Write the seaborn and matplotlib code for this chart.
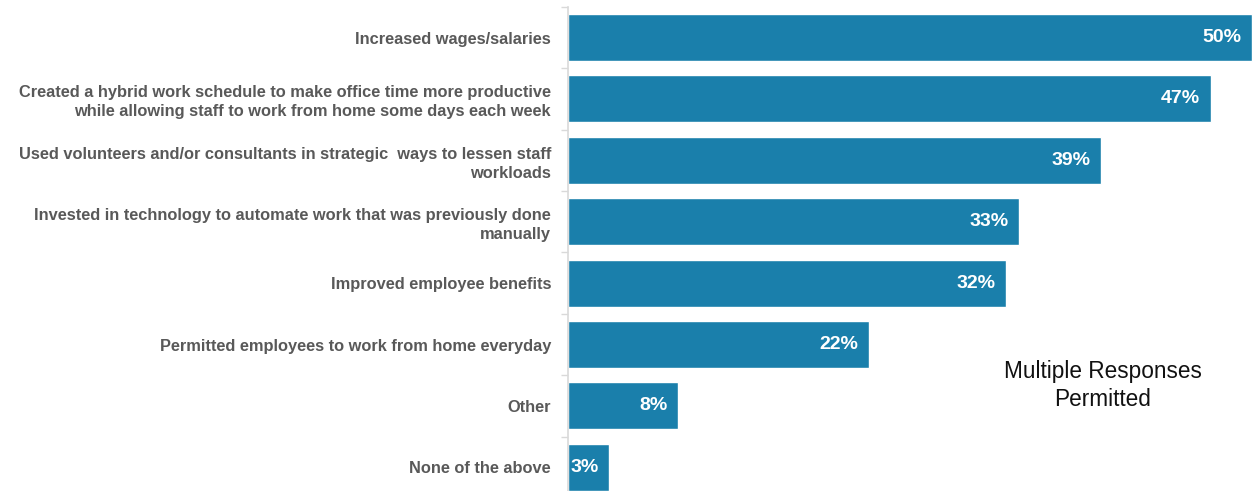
import matplotlib
matplotlib.use("Agg")
import matplotlib.pyplot as plt
import seaborn as sns
import pandas as pd

categories = [
    "Increased wages/salaries",
    "Created a hybrid work schedule to make office time more productive\nwhile allowing staff to work from home some days each week",
    "Used volunteers and/or consultants in strategic  ways to lessen staff\nworkloads",
    "Invested in technology to automate work that was previously done\nmanually",
    "Improved employee benefits",
    "Permitted employees to work from home everyday",
    "Other",
    "None of the above",
]
values = [50, 47, 39, 33, 32, 22, 8, 3]
value_labels = ["50%", "47%", "39%", "33%", "32%", "22%", "8%", "3%"]
note = "Multiple Responses\nPermitted"

sns.set_theme(style="white")
plt.rcParams["font.family"] = ["Liberation Sans", "DejaVu Sans"]

df = pd.DataFrame({"category": categories, "value": values})

fig = plt.figure(figsize=(12.53, 4.91), dpi=100)
ax = fig.add_axes([0.4537, -0.0143, 1 - 0.4537, 1.0003])

sns.barplot(data=df, x="value", y="category", orient="h", color="#1a7fab",
            saturation=1, width=0.765, ax=ax)

ax.set_xlim(0, 50.1)
ax.set_ylim(len(categories) - 0.5, -0.5)
ax.set_xlabel("")
ax.set_ylabel("")
ax.set_xticks([])

for s in ["top", "right", "bottom"]:
    ax.spines[s].set_visible(False)
ax.spines["left"].set_color("#d9d9d9")
ax.spines["left"].set_linewidth(1.2)

# category labels on major ticks, short separators on minor ticks
ax.set_yticks(range(len(categories)))
ax.set_yticklabels(categories, fontweight="bold", color="#595959",
                   fontsize=11.8, linespacing=1.32)
ax.tick_params(axis="y", which="major", length=0, pad=12.5)
ax.set_yticks([i - 0.5 for i in range(len(categories) + 1)], minor=True)
ax.tick_params(axis="y", which="minor", length=5, width=1, color="#d9d9d9", left=True)

for bar, lab in zip(ax.patches, value_labels):
    end = bar.get_x() + bar.get_width()
    cy = bar.get_y() + bar.get_height() / 2
    ax.annotate(lab, xy=(end, cy), xytext=(-7.5, 0), textcoords="offset points",
                ha="right", va="center", color="white", fontweight="bold",
                fontsize=14)

fig.text(0.8803, 0.215, note, ha="center", va="center", fontsize=16.3,
         color="#111111", linespacing=1.25)

fig.savefig("out.png", dpi=100)
